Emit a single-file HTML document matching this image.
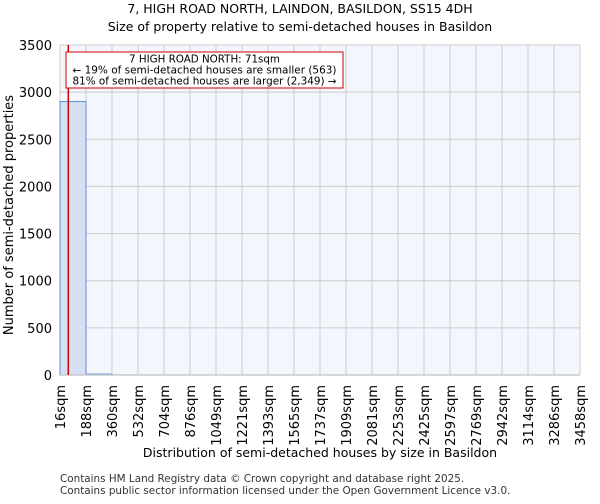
<!DOCTYPE html>
<html><head><meta charset="utf-8"><style>
body{margin:0;background:#fff;font-family:"DejaVu Sans","Liberation Sans",sans-serif}
</style></head><body>
<svg id="c" width="600" height="500" xmlns="http://www.w3.org/2000/svg" font-family="DejaVu Sans, Liberation Sans, sans-serif">
<text x="300" y="13" text-anchor="middle" font-size="12.5">7, HIGH ROAD NORTH, LAINDON, BASILDON, SS15 4DH</text>
<text x="300" y="31" text-anchor="middle" font-size="12.5">Size of property relative to semi-detached houses in Basildon</text>
<rect x="60" y="45" width="520" height="330" fill="#f3f6fd"/>
<g id="grid"></g><g id="bars"></g><g id="axes"></g>
<text transform="translate(13,215) rotate(-90)" text-anchor="middle" font-size="13">Number of semi-detached properties</text>
<text x="320" y="457" text-anchor="middle" font-size="12.5">Distribution of semi-detached houses by size in Basildon</text>
<text x="60" y="482" font-size="10.4" fill="#333">Contains HM Land Registry data © Crown copyright and database right 2025.</text>
<text x="60" y="494" font-size="10.4" fill="#333">Contains public sector information licensed under the Open Government Licence v3.0.</text>
</svg>
<script>
const tickLabels=["16sqm","188sqm","360sqm","532sqm","704sqm","876sqm","1049sqm","1221sqm","1393sqm","1565sqm","1737sqm","1909sqm","2081sqm","2253sqm","2425sqm","2597sqm","2769sqm","2942sqm","3114sqm","3286sqm","3458sqm"];
const binStarts=[16,188,360,532,704,876,1049,1221,1393,1565,1737,1909,2081,2253,2425,2597,2769,2942,3114,3286];
const counts=[2900,10,1,0,0,0,0,0,0,0,0,0,0,0,0,0,0,0,0,0];
const yTicks=[0,500,1000,1500,2000,2500,3000,3500];
const propertySize=71;
const ns="http://www.w3.org/2000/svg";
const X0=60,X1=580,Y0=375,Y1=45,xMin=16,xMax=3458,yMax=3500;
const bw=(X1-X0)/binStarts.length;
const xi=i=>X0+i*bw;
const ys=v=>Y0-v/yMax*(Y0-Y1);
function mk(t,a,p){const e=document.createElementNS(ns,t);for(const k in a)e.setAttribute(k,a[k]);p.appendChild(e);return e;}
const grid=document.getElementById('grid'),bars=document.getElementById('bars'),axes=document.getElementById('axes');
yTicks.forEach(v=>{
 const l=mk('line',{x1:X0,x2:X1,y1:ys(v),y2:ys(v),stroke:'#cccccc','stroke-width':1},grid);
 
 
 const t=mk('text',{x:X0-8,y:ys(v)+5,'text-anchor':'end','font-size':13},axes);
 t.textContent=v;
 
 
});
tickLabels.forEach((s,i)=>{
 const x=xi(i);
 const l=mk('line',{x1:x,x2:x,y1:Y1,y2:Y0,stroke:'#cccccc','stroke-width':1},grid);
 
 
 const t=mk('text',{transform:`translate(${x+5},${Y0+10}) rotate(-90)`,'text-anchor':'end','font-size':13},axes);
 t.textContent=s;
 
 
});
counts.forEach((c,i)=>{
 const r=mk('rect',{x:xi(i),y:ys(c),width:bw,height:Y0-ys(c),fill:'#d6e0f3',stroke:'#5b8fd6','stroke-width':1},bars);
 
 
});
const bl=mk('line',{x1:X0,x2:X1,y1:Y0,y2:Y0,stroke:'#cccccc','stroke-width':1.5},axes);


const px=X0+(propertySize-xMin)/(binStarts[1]-binStarts[0])*bw;
const rl=mk('line',{x1:px,x2:px,y1:Y1,y2:Y0,stroke:'#cc0000','stroke-width':1.5},axes);


const box=mk('rect',{x:66,y:52,width:277,height:36,fill:'#fff',stroke:'#cc0000','stroke-width':1},axes);


["7 HIGH ROAD NORTH: 71sqm","← 19% of semi-detached houses are smaller (563)","81% of semi-detached houses are larger (2,349) →"].forEach((s,i)=>{
 const t=mk('text',{x:204.5,y:62.5+i*11,'text-anchor':'middle','font-size':10.3,textLength:i==0?0:264,lengthAdjust:'spacingAndGlyphs'},axes);
 if(i==0)t.removeAttribute('textLength');
 t.textContent=s;
 
 
});
</script>
</body></html>
